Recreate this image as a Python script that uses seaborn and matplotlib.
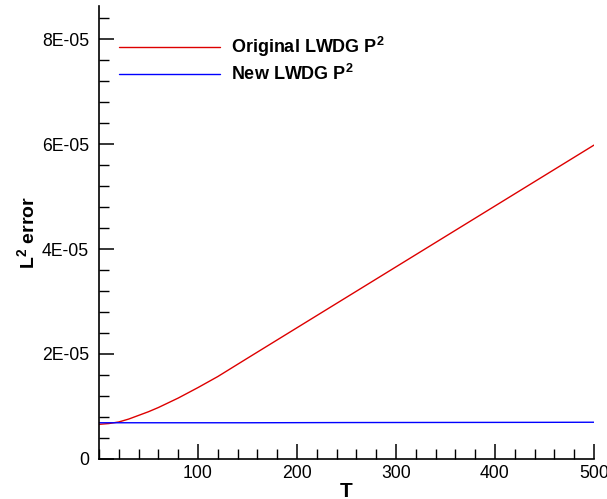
import matplotlib

matplotlib.use("Agg")

import matplotlib.pyplot as plt
import pandas as pd
import seaborn as sns
from matplotlib.ticker import FixedLocator, FixedFormatter, MultipleLocator

# values
time_points = [0, 10, 20, 30, 40, 50, 60, 80, 100, 120, 150, 200, 250, 300, 350, 400, 450, 500]
original_error = [6.6e-6, 6.75e-6, 7.05e-6, 7.6e-6, 8.3e-6, 9.0e-6, 9.8e-6, 1.16e-5, 1.36e-5,
                  1.57e-5, 1.92e-5, 2.50e-5, 3.08e-5, 3.66e-5, 4.24e-5, 4.82e-5, 5.40e-5, 5.98e-5]
new_error = [6.9e-6, 6.9e-6, 6.9e-6, 6.9e-6, 6.9e-6, 6.9e-6, 6.9e-6, 6.9e-6, 6.9e-6,
             6.9e-6, 6.9e-6, 6.92e-6, 6.94e-6, 6.95e-6, 6.96e-6, 6.97e-6, 6.98e-6, 7.0e-6]
series_names = [r"Original LWDG P$^{\mathbf{2}}$", r"New LWDG P$^{\mathbf{2}}$"]
y_tick_values = [0, 2e-5, 4e-5, 6e-5, 8e-5]
y_tick_labels = ["0", "2E-05", "4E-05", "6E-05", "8E-05"]
x_tick_values = [100, 200, 300, 400, 500]

frame = pd.concat([
    pd.DataFrame({"T": time_points, "error": original_error, "series": series_names[0]}),
    pd.DataFrame({"T": time_points, "error": new_error, "series": series_names[1]}),
])

sns.set_theme(style="ticks")
plt.rcParams["font.family"] = ["Liberation Sans", "DejaVu Sans"]
plt.rcParams["mathtext.fontset"] = "custom"
plt.rcParams["mathtext.rm"] = "Liberation Sans"
plt.rcParams["mathtext.bf"] = "Liberation Sans:bold"
for key in ["text.color", "axes.labelcolor", "xtick.color", "ytick.color", "axes.edgecolor"]:
    plt.rcParams[key] = "black"

fig = plt.figure(figsize=(6.07, 4.99), dpi=100)
ax = fig.add_axes([0.163, 0.0802, 0.8156, 0.9078])

sns.lineplot(
    data=frame, x="T", y="error", hue="series",
    palette={series_names[0]: "#dd0000", series_names[1]: "#0000ff"},
    linewidth=1.0, ax=ax,
)

ax.set_xlim(0, 500)
ax.set_ylim(0, 8.63e-5)
ax.xaxis.set_major_locator(FixedLocator(x_tick_values))
ax.xaxis.set_minor_locator(MultipleLocator(20))
ax.yaxis.set_major_locator(FixedLocator(y_tick_values))
ax.yaxis.set_major_formatter(FixedFormatter(y_tick_labels))
ax.yaxis.set_minor_locator(MultipleLocator(4e-6))
ax.tick_params(which="major", direction="in", length=11, width=1.1, labelsize=12.7)
ax.tick_params(axis="x", which="major", pad=4)
ax.tick_params(axis="y", which="major", pad=7)
ax.tick_params(which="minor", direction="in", length=7, width=1.0)
for side in ["top", "right"]:
    ax.spines[side].set_visible(False)
for side in ["left", "bottom"]:
    ax.spines[side].set_linewidth(1.2)

ax.set_xlabel("T", fontsize=15, fontweight="bold", labelpad=0)
ax.set_ylabel(r"L$^{\mathbf{2}}$ error", fontsize=14, fontweight="bold", labelpad=2)

ax.legend(
    loc="upper left", bbox_to_anchor=(0.008, 0.972), frameon=False,
    prop={"weight": "bold", "size": 13}, handlelength=5.6, handletextpad=0.6,
    labelspacing=0.28, title=None,
)

fig.savefig("out.png", dpi=100)
